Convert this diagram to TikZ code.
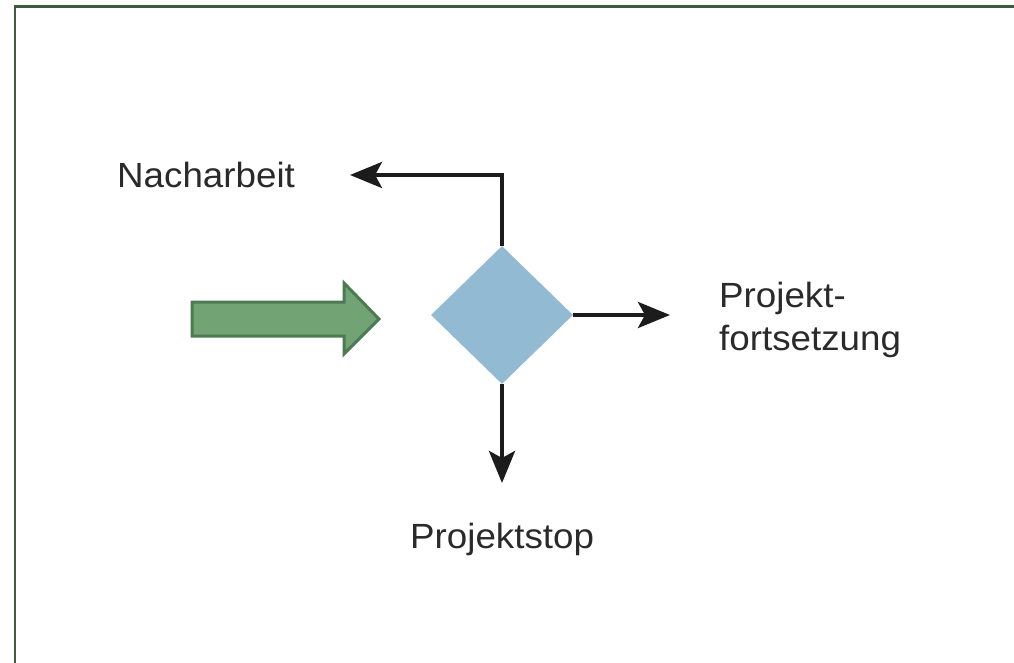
\documentclass[tikz,border=0pt]{standalone}
\usepackage{fontspec}
\setmainfont{Liberation Sans}
\usetikzlibrary{shapes.geometric,arrows.meta}
\definecolor{framegreen}{HTML}{3E5B40}
\definecolor{arrowfill}{HTML}{71A375}
\definecolor{arrowdraw}{HTML}{4E7A52}
\definecolor{diamondblue}{HTML}{93BAD3}
\definecolor{linegray}{HTML}{1C1C1C}
\definecolor{textgray}{HTML}{2A2A2A}
\tikzset{
  conn/.style={line width=4pt, draw=linegray, -{Stealth[length=32pt,width=26pt,inset=7pt]}},
  lbl/.style={inner sep=0pt, text=textgray, font=\fontsize{35}{43}\selectfont},
  decision/.style={diamond, fill=diamondblue, draw=none, inner sep=0pt, minimum width=142pt, minimum height=138pt},
  blockarrow/.style={fill=arrowfill, draw=arrowdraw, line width=3pt, line join=miter}
}
\newcommand{\wtext}[1]{\scalebox{1.05}[1]{#1}}
\begin{document}
\begin{tikzpicture}[x=1pt,y=-1pt]
  \useasboundingbox (0,0) rectangle (1014,663);
  \fill[white] (0,0) rectangle (1014,663);
  \begin{scope}
    \clip (0,0) rectangle (1014,663);
    \draw[framegreen, line width=2.5pt] (1020,6.5) -- (15,6.5) -- (15,670);
  \end{scope}
  % input block arrow
  \draw[blockarrow] (192,302) -- (344,302) -- (344,283) -- (379,319) -- (344,354) -- (344,336) -- (192,336) -- cycle;
  % decision
  \node[decision] (d) at (502,315) {};
  % labels
  \node[lbl, anchor=base west] (nach) at (117,188) {\wtext{Nacharbeit}};
  \node[lbl, anchor=base west] (stop) at (410,548) {\wtext{Projektstop}};
  \node[lbl, anchor=base west, align=left] (fort) at (719,350) {\wtext{Projekt-}\\\wtext{fortsetzung}};
  % arrow tip coordinates
  \coordinate (tipN) at (350,175);
  \coordinate (tipR) at (670,315);
  \coordinate (tipB) at (502,483);
  % connectors
  \draw[conn] (d.north) -- (d.north |- tipN) -- (tipN);
  \draw[conn] (d.east) -- (tipR);
  \draw[conn] (d.south) -- (tipB);
\end{tikzpicture}
\end{document}
